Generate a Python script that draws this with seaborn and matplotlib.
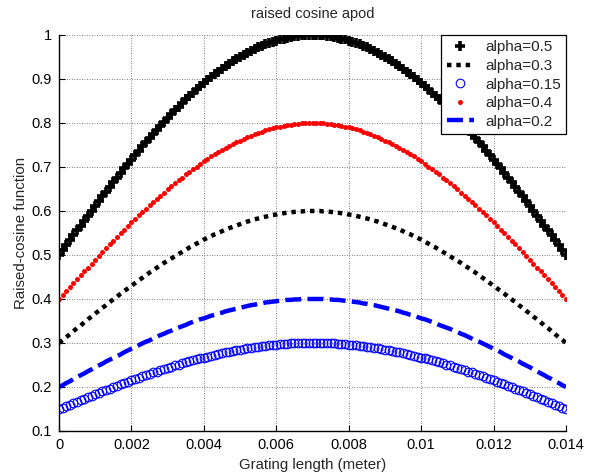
import numpy as np
import pandas as pd
import matplotlib
matplotlib.use("Agg")
import matplotlib.pyplot as plt
import seaborn as sns

# ---- data ----
title = "raised cosine apod"
x_label = "Grating length (meter)"
y_label = "Raised-cosine function"
legend_labels = ["alpha=0.5", "alpha=0.3", "alpha=0.15", "alpha=0.4", "alpha=0.2"]
x_ticks = [0, 0.002, 0.004, 0.006, 0.008, 0.010, 0.012, 0.014]
x_tick_labels = ["0", "0.002", "0.004", "0.006", "0.008", "0.01", "0.012", "0.014"]
y_ticks = [0.1, 0.2, 0.3, 0.4, 0.5, 0.6, 0.7, 0.8, 0.9, 1.0]
y_tick_labels = ["0.1", "0.2", "0.3", "0.4", "0.5", "0.6", "0.7", "0.8", "0.9", "1"]

y_a05 = [0.500, 0.511, 0.522, 0.534, 0.545, 0.556, 0.567, 0.578, 0.589, 0.600,
         0.611, 0.622, 0.633, 0.644, 0.655, 0.665, 0.676, 0.686, 0.697, 0.707,
         0.717, 0.727, 0.737, 0.747, 0.756, 0.766, 0.775, 0.785, 0.794, 0.803,
         0.812, 0.820, 0.829, 0.837, 0.846, 0.854, 0.861, 0.869, 0.877, 0.884,
         0.891, 0.898, 0.905, 0.911, 0.917, 0.923, 0.929, 0.935, 0.940, 0.945,
         0.950, 0.955, 0.960, 0.964, 0.968, 0.972, 0.976, 0.979, 0.982, 0.985,
         0.987, 0.990, 0.992, 0.994, 0.995, 0.997, 0.998, 0.999, 0.999, 1.000,
         1.000,
         1.000, 0.999, 0.999, 0.998, 0.997, 0.995, 0.994, 0.992, 0.990, 0.987,
         0.985, 0.982, 0.979, 0.976, 0.972, 0.968, 0.964, 0.960, 0.955, 0.950,
         0.945, 0.940, 0.935, 0.929, 0.923, 0.917, 0.911, 0.905, 0.898, 0.891,
         0.884, 0.877, 0.869, 0.861, 0.854, 0.846, 0.837, 0.829, 0.820, 0.812,
         0.803, 0.794, 0.785, 0.775, 0.766, 0.756, 0.747, 0.737, 0.727, 0.717,
         0.707, 0.697, 0.686, 0.676, 0.665, 0.655, 0.644, 0.633, 0.622, 0.611,
         0.600, 0.589, 0.578, 0.567, 0.556, 0.545, 0.534, 0.522, 0.511, 0.500]

y_a04 = [0.400, 0.409, 0.418, 0.427, 0.436, 0.445, 0.454, 0.463, 0.471, 0.480,
         0.489, 0.498, 0.506, 0.515, 0.524, 0.532, 0.541, 0.549, 0.557, 0.565,
         0.574, 0.582, 0.590, 0.597, 0.605, 0.613, 0.620, 0.628, 0.635, 0.642,
         0.649, 0.656, 0.663, 0.670, 0.676, 0.683, 0.689, 0.695, 0.701, 0.707,
         0.713, 0.718, 0.724, 0.729, 0.734, 0.739, 0.743, 0.748, 0.752, 0.756,
         0.760, 0.764, 0.768, 0.771, 0.775, 0.778, 0.780, 0.783, 0.786, 0.788,
         0.790, 0.792, 0.794, 0.795, 0.796, 0.797, 0.798, 0.799, 0.800, 0.800,
         0.800,
         0.800, 0.800, 0.799, 0.798, 0.797, 0.796, 0.795, 0.794, 0.792, 0.790,
         0.788, 0.786, 0.783, 0.780, 0.778, 0.775, 0.771, 0.768, 0.764, 0.760,
         0.756, 0.752, 0.748, 0.743, 0.739, 0.734, 0.729, 0.724, 0.718, 0.713,
         0.707, 0.701, 0.695, 0.689, 0.683, 0.676, 0.670, 0.663, 0.656, 0.649,
         0.642, 0.635, 0.628, 0.620, 0.613, 0.605, 0.597, 0.590, 0.582, 0.574,
         0.565, 0.557, 0.549, 0.541, 0.532, 0.524, 0.515, 0.506, 0.498, 0.489,
         0.480, 0.471, 0.463, 0.454, 0.445, 0.436, 0.427, 0.418, 0.409, 0.400]

y_a03 = [0.300, 0.307, 0.313, 0.320, 0.327, 0.334, 0.340, 0.347, 0.354, 0.360,
         0.367, 0.373, 0.380, 0.386, 0.393, 0.399, 0.405, 0.412, 0.418, 0.424,
         0.430, 0.436, 0.442, 0.448, 0.454, 0.460, 0.465, 0.471, 0.476, 0.482,
         0.487, 0.492, 0.497, 0.502, 0.507, 0.512, 0.517, 0.521, 0.526, 0.530,
         0.535, 0.539, 0.543, 0.547, 0.550, 0.554, 0.558, 0.561, 0.564, 0.567,
         0.570, 0.573, 0.576, 0.578, 0.581, 0.583, 0.585, 0.587, 0.589, 0.591,
         0.592, 0.594, 0.595, 0.596, 0.597, 0.598, 0.599, 0.599, 0.600, 0.600,
         0.600,
         0.600, 0.600, 0.599, 0.599, 0.598, 0.597, 0.596, 0.595, 0.594, 0.592,
         0.591, 0.589, 0.587, 0.585, 0.583, 0.581, 0.578, 0.576, 0.573, 0.570,
         0.567, 0.564, 0.561, 0.558, 0.554, 0.550, 0.547, 0.543, 0.539, 0.535,
         0.530, 0.526, 0.521, 0.517, 0.512, 0.507, 0.502, 0.497, 0.492, 0.487,
         0.482, 0.476, 0.471, 0.465, 0.460, 0.454, 0.448, 0.442, 0.436, 0.430,
         0.424, 0.418, 0.412, 0.405, 0.399, 0.393, 0.386, 0.380, 0.373, 0.367,
         0.360, 0.354, 0.347, 0.340, 0.334, 0.327, 0.320, 0.313, 0.307, 0.300]

y_a02 = [0.200, 0.204, 0.209, 0.213, 0.218, 0.222, 0.227, 0.231, 0.236, 0.240,
         0.245, 0.249, 0.253, 0.258, 0.262, 0.266, 0.270, 0.274, 0.279, 0.283,
         0.287, 0.291, 0.295, 0.299, 0.303, 0.306, 0.310, 0.314, 0.318, 0.321,
         0.325, 0.328, 0.332, 0.335, 0.338, 0.341, 0.345, 0.348, 0.351, 0.354,
         0.356, 0.359, 0.362, 0.364, 0.367, 0.369, 0.372, 0.374, 0.376, 0.378,
         0.380, 0.382, 0.384, 0.386, 0.387, 0.389, 0.390, 0.392, 0.393, 0.394,
         0.395, 0.396, 0.397, 0.398, 0.398, 0.399, 0.399, 0.400, 0.400, 0.400,
         0.400,
         0.400, 0.400, 0.400, 0.399, 0.399, 0.398, 0.398, 0.397, 0.396, 0.395,
         0.394, 0.393, 0.392, 0.390, 0.389, 0.387, 0.386, 0.384, 0.382, 0.380,
         0.378, 0.376, 0.374, 0.372, 0.369, 0.367, 0.364, 0.362, 0.359, 0.356,
         0.354, 0.351, 0.348, 0.345, 0.341, 0.338, 0.335, 0.332, 0.328, 0.325,
         0.321, 0.318, 0.314, 0.310, 0.306, 0.303, 0.299, 0.295, 0.291, 0.287,
         0.283, 0.279, 0.274, 0.270, 0.266, 0.262, 0.258, 0.253, 0.249, 0.245,
         0.240, 0.236, 0.231, 0.227, 0.222, 0.218, 0.213, 0.209, 0.204, 0.200]

y_a015 = [0.150, 0.153, 0.157, 0.160, 0.163, 0.167, 0.170, 0.173, 0.177, 0.180,
          0.183, 0.187, 0.190, 0.193, 0.196, 0.200, 0.203, 0.206, 0.209, 0.212,
          0.215, 0.218, 0.221, 0.224, 0.227, 0.230, 0.233, 0.235, 0.238, 0.241,
          0.244, 0.246, 0.249, 0.251, 0.254, 0.256, 0.258, 0.261, 0.263, 0.265,
          0.267, 0.269, 0.271, 0.273, 0.275, 0.277, 0.279, 0.280, 0.282, 0.284,
          0.285, 0.287, 0.288, 0.289, 0.290, 0.292, 0.293, 0.294, 0.295, 0.295,
          0.296, 0.297, 0.298, 0.298, 0.299, 0.299, 0.299, 0.300, 0.300, 0.300,
          0.300,
          0.300, 0.300, 0.300, 0.299, 0.299, 0.299, 0.298, 0.298, 0.297, 0.296,
          0.295, 0.295, 0.294, 0.293, 0.292, 0.290, 0.289, 0.288, 0.287, 0.285,
          0.284, 0.282, 0.280, 0.279, 0.277, 0.275, 0.273, 0.271, 0.269, 0.267,
          0.265, 0.263, 0.261, 0.258, 0.256, 0.254, 0.251, 0.249, 0.246, 0.244,
          0.241, 0.238, 0.235, 0.233, 0.230, 0.227, 0.224, 0.221, 0.218, 0.215,
          0.212, 0.209, 0.206, 0.203, 0.200, 0.196, 0.193, 0.190, 0.187, 0.183,
          0.180, 0.177, 0.173, 0.170, 0.167, 0.163, 0.160, 0.157, 0.153, 0.150]

x_start, x_end = 0.0, 0.014
x_grid = np.linspace(x_start, x_end, len(y_a05))

# ---- style ----
sns.set_theme(style="white")
plt.rcParams["font.family"] = ["Liberation Sans", "DejaVu Sans"]
FS = 10.5

fig = plt.figure(figsize=(5.98, 4.72), dpi=100)
ax = fig.add_axes([59 / 598, 1 - 431 / 472, (566 - 59) / 598, (431 - 35) / 472])

series = [
    (y_a05, dict(color="black", marker="+", linestyle="", markersize=7.5, markeredgewidth=2.6,
                 markeredgecolor="black")),
    (y_a03, dict(color="black", linestyle=(0, (1, 1.1)), linewidth=3.2)),
    (y_a015, dict(color="blue", marker="o", linestyle="", markersize=6.2, markerfacecolor="none",
                  markeredgecolor="blue", markeredgewidth=0.8)),
    (y_a04, dict(color="red", marker="o", linestyle="", markersize=3.6, markeredgewidth=0,
                 markerfacecolor="red")),
    (y_a02, dict(color="blue", linestyle=(0, (3.6, 1.4)), linewidth=3.2)),
]

for (yv, kw), lab in zip(series, legend_labels):
    df = pd.DataFrame({"x": x_grid, "y": yv})
    sns.lineplot(data=df, x="x", y="y", ax=ax, sort=False, estimator=None,
                 label=lab, **kw)

ax.set_xlim(x_start, x_end)
ax.set_ylim(0.1, 1.0)
ax.set_xticks(x_ticks)
ax.set_xticklabels(x_tick_labels)
ax.set_yticks(y_ticks)
ax.set_yticklabels(y_tick_labels)
ax.tick_params(direction="in", length=4, width=0.8, colors="black", labelsize=FS, pad=5,
               bottom=True, left=True)
ax.grid(True, color="#555555", linestyle=(0, (1, 2)), linewidth=0.6)
for s in ["top", "right"]:
    ax.spines[s].set_visible(False)
for s in ["left", "bottom"]:
    ax.spines[s].set_color("black")
    ax.spines[s].set_linewidth(1.0)

ax.set_title(title, fontsize=FS, pad=12.5)
ax.set_xlabel(x_label, fontsize=FS + 0.3, labelpad=4)
ax.set_ylabel(y_label, fontsize=FS + 0.3, labelpad=3)

leg = ax.legend(loc="upper right", fontsize=FS + 0.5, frameon=True, fancybox=False,
                edgecolor="black", framealpha=1, borderaxespad=0, labelspacing=0.3,
                handlelength=1.8, handletextpad=0.7, borderpad=0.35, numpoints=1)
leg.get_frame().set_linewidth(0.9)

fig.savefig("out.png", dpi=100)
